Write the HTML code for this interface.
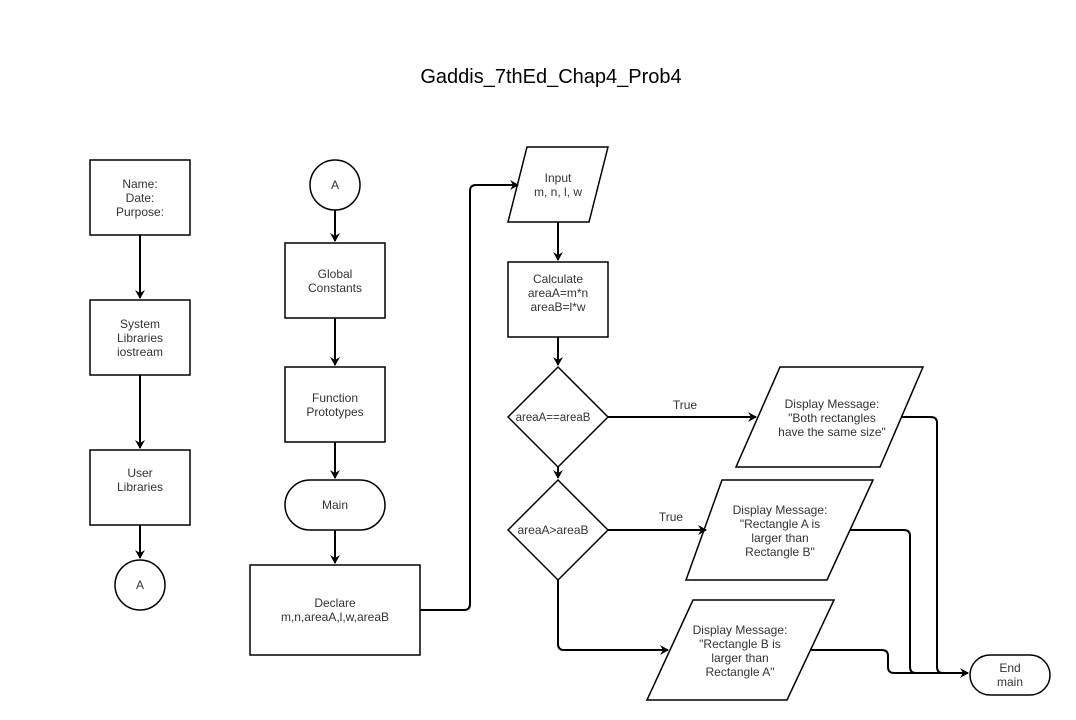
<!DOCTYPE html>
<html><head><style>body{margin:0;background:#fff}svg{display:block}text{font-family:"Liberation Sans",Arial,sans-serif;font-size:12px;fill:#333}</style></head>
<body>
<svg width="1076" height="720" viewBox="0 0 1076 720">
<defs><marker id="a" markerWidth="10" markerHeight="10" refX="8" refY="5" orient="auto" markerUnits="userSpaceOnUse"><path d="M0,0 L9,5 L0,10 L3,5 Z" fill="#000"/></marker></defs>
<rect width="1076" height="720" fill="#fff"/>
<text x="551" y="83" text-anchor="middle" style="font-size:20px;fill:#000">Gaddis_7thEd_Chap4_Prob4</text>
<g fill="#fff" stroke="#000" stroke-width="1.5">
<rect x="90" y="160" width="100" height="75"/>
<rect x="90" y="300" width="100" height="75"/>
<rect x="90" y="450" width="100" height="75"/>
<circle cx="140" cy="585" r="25"/>
<circle cx="335" cy="185" r="25"/>
<rect x="285" y="243" width="100" height="75"/>
<rect x="285" y="367" width="100" height="75"/>
<rect x="285" y="480" width="100" height="50" rx="25"/>
<rect x="250" y="565" width="170" height="90"/>
<polygon points="527,147 608,147 589,222 508,222"/>
<rect x="508" y="262" width="100" height="75"/>
<polygon points="558,367 608,417 558,467 508,417"/>
<polygon points="558,480 608,530 558,580 508,530"/>
<polygon points="780,367 923,367 880,467 736,467"/>
<polygon points="722,480 873,480 827,580 686,580"/>
<polygon points="693,600 834,600 787,700 647,700"/>
<rect x="970" y="655" width="80" height="40" rx="20"/>
</g>
<g fill="none" stroke="#000" stroke-width="2" stroke-linejoin="round">
<path d="M140,235 V298" marker-end="url(#a)"/>
<path d="M140,375 V448" marker-end="url(#a)"/>
<path d="M140,525 V558" marker-end="url(#a)"/>
<path d="M335,210 V241" marker-end="url(#a)"/>
<path d="M335,318 V365" marker-end="url(#a)"/>
<path d="M335,442 V478" marker-end="url(#a)"/>
<path d="M335,530 V563" marker-end="url(#a)"/>
<path d="M420,610 H464 Q470,610 470,604 V191 Q470,185 476,185 H518" marker-end="url(#a)"/>
<path d="M558,222 V260" marker-end="url(#a)"/>
<path d="M558,337 V365" marker-end="url(#a)"/>
<path d="M558,467 V478" marker-end="url(#a)"/>
<path d="M608,417 H756" marker-end="url(#a)"/>
<path d="M608,530 H706" marker-end="url(#a)"/>
<path d="M558,580 V644 Q558,650 564,650 H668" marker-end="url(#a)"/>
<path d="M901,417 H931 Q937,417 937,423 V667 Q937,673 943,673"/>
<path d="M850,530 H904 Q910,530 910,536 V667 Q910,673 916,673"/>
<path d="M810,650 H882 Q888,650 888,656 V667 Q888,673 894,673 H968" marker-end="url(#a)"/>
</g>
<g text-anchor="middle">
<text x="140" y="188">Name:</text><text x="140" y="202">Date:</text><text x="140" y="216">Purpose:</text>
<text x="140" y="328">System</text><text x="140" y="342">Libraries</text><text x="140" y="356">iostream</text>
<text x="140" y="477">User</text><text x="140" y="491">Libraries</text>
<text x="140" y="589">A</text>
<text x="335" y="189">A</text>
<text x="335" y="278">Global</text><text x="335" y="292">Constants</text>
<text x="335" y="402">Function</text><text x="335" y="416">Prototypes</text>
<text x="335" y="509">Main</text>
<text x="335" y="607">Declare</text><text x="335" y="621">m,n,areaA,l,w,areaB</text>
<text x="558" y="182">Input</text><text x="558" y="196">m, n, l, w</text>
<text x="558" y="283">Calculate</text><text x="558" y="297">areaA=m*n</text><text x="558" y="311">areaB=l*w</text>
<text x="553" y="421" style="font-size:11.5px">areaA==areaB</text>
<text x="553" y="534">areaA&gt;areaB</text>
<text x="685" y="409">True</text>
<text x="671" y="521">True</text>
<text x="832" y="408">Display Message:</text><text x="832" y="422">"Both rectangles</text><text x="832" y="436">have the same size"</text>
<text x="780" y="514">Display Message:</text><text x="780" y="528">"Rectangle A is</text><text x="780" y="542">larger than</text><text x="780" y="556">Rectangle B"</text>
<text x="740" y="634">Display Message:</text><text x="740" y="648">"Rectangle B is</text><text x="740" y="662">larger than</text><text x="740" y="676">Rectangle A"</text>
<text x="1010" y="672">End</text><text x="1010" y="686">main</text>
</g>
</svg>
</body></html>
